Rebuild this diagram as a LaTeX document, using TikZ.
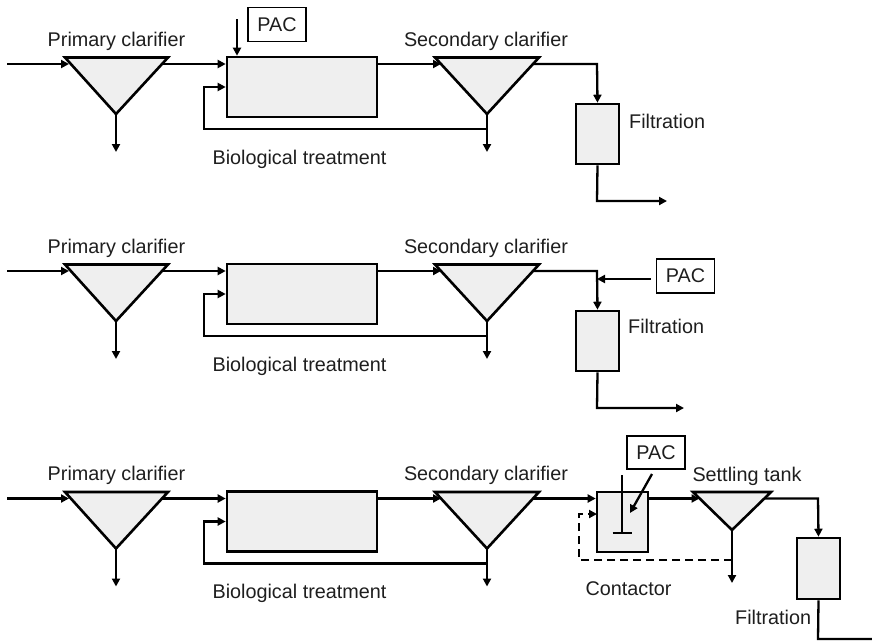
\documentclass[tikz,border=0pt]{standalone}
\usepackage{fontspec}
\setmainfont{Liberation Sans}
\usetikzlibrary{arrows.meta,calc}
\definecolor{tankfill}{HTML}{EFEFEF}
\definecolor{txt}{HTML}{1E1E1E}
\tikzset{
  flow/.style={line width=2.3pt,-{Triangle[length=8pt,width=8pt]}},
  pipe/.style={line width=2.3pt},
  unit/.style={draw,line width=2.6pt,fill=tankfill,line join=miter},
  lbl/.style={text=txt,font=\fontsize{19.8}{24}\selectfont,inner sep=0pt},
  pacbox/.style={draw,line width=1.8pt,text=txt,font=\fontsize{19.8}{24}\selectfont,
    minimum width=58pt,minimum height=34pt,inner sep=0pt},
}
\newcommand\leftpart{%
  \coordinate (src) at (7,64);
  \coordinate (PL) at (65,57.5);
  \coordinate (PR) at (168,57.5);
  \coordinate (PA) at (116,114);
  \coordinate (Pin) at (69,64);
  \coordinate (Pout) at (162,64);
  \coordinate (Pdrain) at (116,152);
  \draw[unit] (PL) -- (PR) -- (PA) -- cycle;
  \node[lbl,anchor=base] (plab) at (116.5,46) {Primary clarifier};
  \draw[flow] (src) -- (Pin);
  \draw[flow] (PA) -- (Pdrain);
  \node[unit,minimum width=150pt,minimum height=60pt,inner sep=0pt] (bio) at (302,87) {};
  \draw[flow] (Pout) -- (Pout -| bio.west);
  \node[lbl,anchor=base] (biolab) at (299.5,164) {Biological treatment};
  \coordinate (SL) at (435,57.5);
  \coordinate (SR) at (539,57.5);
  \coordinate (SA) at (487,114);
  \coordinate (Sin) at (441,64);
  \coordinate (Sout) at (533,64);
  \coordinate (Sdrain) at (487,152);
  \coordinate (rj) at (487,129);
  \coordinate (rc) at (204,129);
  \draw[unit] (SL) -- (SR) -- (SA) -- cycle;
  \node[lbl,anchor=base] (slab) at (486,46) {Secondary clarifier};
  \draw[flow] (bio.east |- Sin) -- (Sin);
  \draw[flow] (SA) -- (Sdrain);
  \draw[flow] (rj) -- (rc) |- (bio.west);
}
\begin{document}
\begin{tikzpicture}[x=1pt,y=-1pt]
\useasboundingbox (0,0) rectangle (872,641);

% ---------- panel 1 ----------
\begin{scope}[name prefix=a-]
  \leftpart
  \node[pacbox] (pac) at (277,24.5) {PAC};
  \coordinate (pacin) at (237,19);
  \draw[flow] (pacin) -- (pacin |- bio.north);
  \node[unit,minimum width=43pt,minimum height=60pt,inner sep=0pt] (filt) at (597.5,134) {};
  \coordinate (fk) at (597,64);
  \draw[flow] (Sout) -- (fk) -- (filt.north);
  \node[lbl,anchor=base west] (flab) at (629,128) {Filtration};
  \coordinate (fo1) at (597,201);
  \coordinate (fo2) at (667,201);
  \draw[flow] (filt.south) -- (fo1) -- (fo2);
\end{scope}

% ---------- panel 2 ----------
\begin{scope}[shift={(0,207)},name prefix=b-]
  \leftpart
  \node[unit,minimum width=43pt,minimum height=60pt,inner sep=0pt] (filt) at (597.5,134) {};
  \coordinate (fk) at (597,64);
  \draw[flow] (Sout) -- (fk) -- (filt.north);
  \node[pacbox] (pac) at (685.5,69) {PAC};
  \coordinate (pj) at (597,72);
  \draw[flow] ($(pac.west)+(-5,3)$) -- (pj);
  \node[lbl,anchor=base west] (flab) at (628,126) {Filtration};
  \coordinate (fo1) at (597,201);
  \coordinate (fo2) at (684,201);
  \draw[flow] (filt.south) -- (fo1) -- (fo2);
\end{scope}

% ---------- panel 3 ----------
\begin{scope}[shift={(0,434.5)},name prefix=c-]
  \leftpart
  \node[unit,minimum width=51pt,minimum height=60pt,inner sep=0pt] (cont) at (622.5,87.5) {};
  \draw[flow] (Sout) -- (Sout -| cont.west);
  \coordinate (stT) at (622,40.5);
  \coordinate (stB) at (622,98.5);
  \draw[pipe] (stT) -- (stB);
  \draw[pipe] ($(stB)+(-9.5,0)$) -- ($(stB)+(9.5,0)$);
  \node[pacbox,minimum height=33pt] (pac) at (656,18) {PAC};
  \coordinate (pacA) at (652,39.5);
  \coordinate (pacB) at (630,78.5);
  \draw[flow] (pacA) -- (pacB);
  \node[lbl,anchor=base] (clab) at (628.5,160.5) {Contactor};
  \coordinate (TL) at (693,57.5);
  \coordinate (TR) at (771,57.5);
  \coordinate (TA) at (732,95.5);
  \coordinate (Tin) at (699.5,64);
  \coordinate (Tout) at (764.5,64);
  \coordinate (Tdrain) at (732,148.5);
  \draw[unit] (TL) -- (TR) -- (TA) -- cycle;
  \node[lbl,anchor=base] (tlab) at (747,47) {Settling tank};
  \draw[flow] (cont.east |- Tin) -- (Tin);
  \draw[flow] (TA) -- (Tdrain);
  \coordinate (dj) at (732,125.5);
  \coordinate (dc) at (579,125.5);
  \coordinate (dt) at (597,79.5);
  \draw[flow,dash pattern=on 8pt off 5pt] (dj) -- (dc) |- (dt);
  \node[unit,minimum width=43pt,minimum height=61pt,inner sep=0pt] (filt) at (818.5,134) {};
  \coordinate (fk) at (818,64);
  \draw[flow] (Tout) -- (fk) -- (filt.north);
  \node[lbl,anchor=base west] (flab) at (735,189.5) {Filtration};
  \coordinate (fo1) at (818,204.5);
  \coordinate (fo2) at (880,204.5);
  \draw[flow] (filt.south) -- (fo1) -- (fo2);
\end{scope}
\end{tikzpicture}
\end{document}
